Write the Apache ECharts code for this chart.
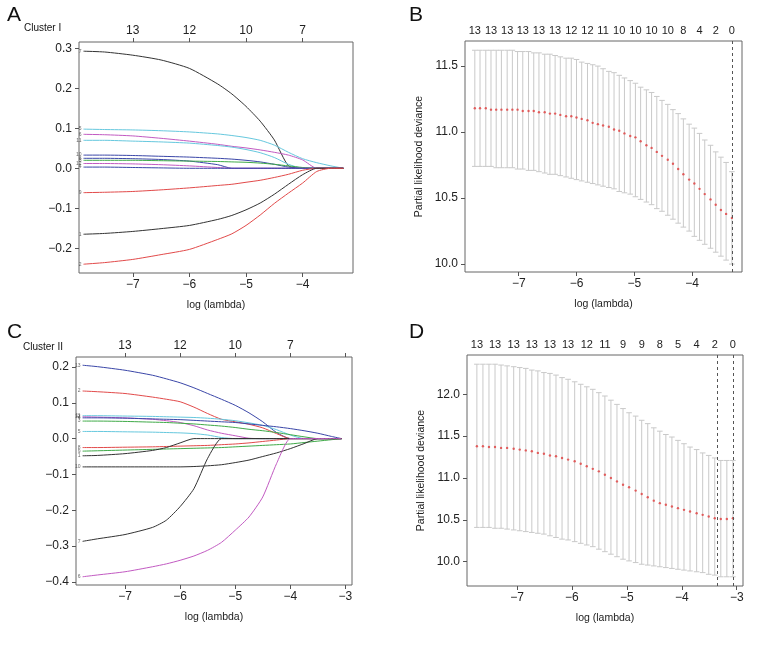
<!DOCTYPE html>
<html>
<head>
<meta charset="utf-8">
<script src="https://cdn.jsdelivr.net/npm/echarts@6/dist/echarts.min.js"></script>
<style>
  html, body { margin: 0; padding: 0; background: #fff; }
  #chart { width: 768px; height: 648px; }
</style>
</head>
<body>
<div id="chart"></div>
<script>
// A: coefficient paths, cluster I
const lamA = [-7.87, -7.5, -7, -6.5, -6, -5.5, -5.25, -5, -4.75, -4.5, -4.25, -4, -3.75, -3.5, -3.28]
const a7  = [0.293, 0.291, 0.283, 0.271, 0.250, 0.211, 0.186, 0.155, 0.118, 0.071, 0.006, 0, 0, 0, 0]
const a5  = [0.098, 0.097, 0.096, 0.094, 0.091, 0.086, 0.082, 0.077, 0.070, 0.058, 0.040, 0.024, 0.014, 0.006, 0]
const a6  = [0.085, 0.084, 0.081, 0.075, 0.068, 0.060, 0.055, 0.051, 0.046, 0.040, 0.033, 0.021, 0, 0, 0]
const a11 = [0.070, 0.070, 0.068, 0.066, 0.063, 0.057, 0.053, 0.047, 0.039, 0.027, 0.010, 0, 0, 0, 0]
const a10 = [0.033, 0.033, 0.032, 0.030, 0.028, 0.025, 0.023, 0.020, 0.016, 0.010, 0.003, 0, 0, 0, 0]
const a8  = [0.025, 0.025, 0.024, 0.022, 0.018, 0.009, 0, 0, 0, 0, 0, 0, 0, 0, 0]
const a3  = [0.020, 0.020, 0.020, 0.019, 0.018, 0.017, 0.016, 0.015, 0.013, 0.010, 0.006, 0.002, 0, 0, 0]
const a12 = [0.012, 0.012, 0.011, 0.009, 0.006, 0.002, 0, 0, 0, 0, 0, 0, 0, 0, 0]
const a4  = [0.003, 0.003, 0.002, 0.001, 0, 0, 0, 0, 0, 0, 0, 0, 0, 0, 0]
const a9  = [-0.061, -0.060, -0.058, -0.054, -0.049, -0.043, -0.040, -0.035, -0.030, -0.023, -0.015, -0.005, 0, 0, 0]
const a1  = [-0.165, -0.163, -0.158, -0.151, -0.143, -0.128, -0.118, -0.104, -0.087, -0.065, -0.040, -0.016, 0, 0, 0]
const a2  = [-0.240, -0.236, -0.228, -0.216, -0.203, -0.178, -0.164, -0.143, -0.117, -0.088, -0.062, -0.037, -0.008, 0, 0]

// C: coefficient paths, cluster II
const lamC = [-7.77, -7.5, -7, -6.5, -6.25, -6, -5.75, -5.5, -5.25, -5, -4.75, -4.5, -4.25, -4, -3.75, -3.5, -3.25, -3.07]
const c13 = [0.205, 0.201, 0.191, 0.177, 0.167, 0.156, 0.142, 0.126, 0.110, 0.093, 0.072, 0.047, 0.017, 0, 0, 0, 0, 0]
const c2  = [0.133, 0.131, 0.126, 0.116, 0.110, 0.103, 0.088, 0.070, 0.054, 0.047, 0.040, 0.030, 0.014, 0, 0, 0, 0, 0]
const c11 = [0.064, 0.064, 0.063, 0.062, 0.061, 0.060, 0.059, 0.057, 0.054, 0.050, 0.044, 0.037, 0.025, 0.010, 0, 0, 0, 0]
const c12 = [0.061, 0.060, 0.058, 0.054, 0.050, 0.045, 0.036, 0.024, 0.015, 0.008, 0.001, 0, 0, 0, 0, 0, 0, 0]
const c4  = [0.058, 0.058, 0.057, 0.055, 0.054, 0.053, 0.051, 0.049, 0.047, 0.045, 0.041, 0.037, 0.033, 0.028, 0.022, 0.015, 0.006, 0]
const c3  = [0.049, 0.049, 0.048, 0.046, 0.045, 0.043, 0.041, 0.038, 0.035, 0.031, 0.026, 0.022, 0.017, 0.011, 0.005, 0, 0, 0]
const c5  = [0.020, 0.020, 0.019, 0.018, 0.017, 0.016, 0.014, 0.010, 0.003, 0, 0, 0, 0, 0, 0, 0, 0, 0]
const c8  = [-0.025, -0.025, -0.024, -0.023, -0.022, -0.021, -0.020, -0.019, -0.017, -0.015, -0.012, -0.008, -0.004, 0, 0, 0, 0, 0]
const c9  = [-0.035, -0.034, -0.032, -0.030, -0.029, -0.028, -0.027, -0.026, -0.025, -0.023, -0.021, -0.019, -0.017, -0.015, -0.011, -0.007, -0.003, 0]
const c1  = [-0.048, -0.047, -0.042, -0.033, -0.025, -0.012, 0, 0, 0, 0, 0, 0, 0, 0, 0, 0, 0, 0]
const c10 = [-0.079, -0.079, -0.079, -0.079, -0.079, -0.079, -0.078, -0.076, -0.073, -0.067, -0.060, -0.050, -0.040, -0.028, -0.014, 0, 0, 0]
const c7  = [-0.287, -0.280, -0.268, -0.248, -0.228, -0.190, -0.140, -0.055, 0, 0, 0, 0, 0, 0, 0, 0, 0, 0]
const c6  = [-0.386, -0.381, -0.372, -0.358, -0.350, -0.340, -0.328, -0.312, -0.290, -0.256, -0.219, -0.163, -0.070, 0, 0, 0, 0, 0]

// B: cross-validation curve, cluster I
const lamB = [-7.76, -7.67, -7.57, -7.48, -7.39, -7.30, -7.20, -7.11, -7.02, -6.93,
  -6.83, -6.74, -6.65, -6.55, -6.46, -6.37, -6.28, -6.18, -6.09, -6.00,
  -5.91, -5.81, -5.72, -5.63, -5.54, -5.44, -5.35, -5.26, -5.17, -5.07,
  -4.98, -4.89, -4.79, -4.70, -4.61, -4.52, -4.42, -4.33, -4.24, -4.15,
  -4.05, -3.96, -3.87, -3.78, -3.68, -3.59, -3.50, -3.41, -3.31]
const cvmB = [11.18, 11.18, 11.18, 11.17, 11.17, 11.17, 11.17, 11.17, 11.17, 11.16,
  11.16, 11.16, 11.15, 11.15, 11.14, 11.14, 11.13, 11.12, 11.12, 11.11,
  11.10, 11.09, 11.07, 11.06, 11.05, 11.04, 11.02, 11.01, 10.99, 10.97,
  10.96, 10.93, 10.90, 10.88, 10.85, 10.82, 10.79, 10.76, 10.72, 10.68,
  10.64, 10.61, 10.57, 10.53, 10.49, 10.45, 10.41, 10.38, 10.35]
const upB = [11.62, 11.62, 11.62, 11.62, 11.62, 11.62, 11.62, 11.62, 11.61, 11.61,
  11.61, 11.60, 11.60, 11.59, 11.59, 11.58, 11.57, 11.56, 11.56, 11.55,
  11.53, 11.52, 11.51, 11.50, 11.48, 11.46, 11.45, 11.43, 11.41, 11.39,
  11.37, 11.34, 11.32, 11.30, 11.27, 11.24, 11.21, 11.17, 11.14, 11.10,
  11.06, 11.03, 10.99, 10.94, 10.90, 10.85, 10.81, 10.77, 10.70]
const loB = [10.74, 10.74, 10.74, 10.74, 10.73, 10.73, 10.73, 10.73, 10.72, 10.72,
  10.71, 10.71, 10.70, 10.69, 10.68, 10.68, 10.67, 10.66, 10.65, 10.64,
  10.63, 10.62, 10.61, 10.60, 10.59, 10.58, 10.57, 10.55, 10.54, 10.53,
  10.51, 10.49, 10.47, 10.45, 10.42, 10.40, 10.37, 10.34, 10.31, 10.28,
  10.25, 10.21, 10.18, 10.15, 10.12, 10.09, 10.06, 10.03, 10.00]
const nzB = ['13', '13', '13', '13', '13', '13', '12', '12', '11', '10', '10', '10', '10', '8', '4', '2', '0']
const vlineB = [-3.31]

// D: cross-validation curve, cluster II
const lamD = [-7.73, -7.62, -7.51, -7.40, -7.29, -7.18, -7.06, -6.95, -6.84, -6.73,
  -6.62, -6.51, -6.40, -6.29, -6.18, -6.07, -5.95, -5.84, -5.73, -5.62,
  -5.51, -5.40, -5.29, -5.18, -5.07, -4.96, -4.84, -4.73, -4.62, -4.51,
  -4.40, -4.29, -4.18, -4.07, -3.96, -3.85, -3.73, -3.62, -3.51, -3.40,
  -3.29, -3.18, -3.07]
const cvmD = [11.38, 11.38, 11.37, 11.37, 11.36, 11.36, 11.35, 11.34, 11.33, 11.32,
  11.30, 11.29, 11.27, 11.26, 11.24, 11.22, 11.20, 11.17, 11.14, 11.11,
  11.08, 11.04, 11.00, 10.96, 10.92, 10.89, 10.85, 10.81, 10.77, 10.73,
  10.70, 10.68, 10.66, 10.64, 10.62, 10.60, 10.58, 10.56, 10.54, 10.52,
  10.51, 10.51, 10.52]
const upD = [12.36, 12.36, 12.36, 12.36, 12.35, 12.34, 12.33, 12.32, 12.31, 12.29,
  12.28, 12.26, 12.25, 12.23, 12.20, 12.18, 12.15, 12.12, 12.09, 12.06,
  12.02, 11.98, 11.93, 11.88, 11.83, 11.78, 11.74, 11.69, 11.65, 11.60,
  11.56, 11.52, 11.49, 11.45, 11.41, 11.37, 11.34, 11.30, 11.27, 11.24,
  11.21, 11.21, 11.21]
const loD = [10.41, 10.41, 10.41, 10.40, 10.40, 10.39, 10.38, 10.37, 10.36, 10.35,
  10.34, 10.33, 10.31, 10.29, 10.27, 10.26, 10.24, 10.22, 10.20, 10.18,
  10.15, 10.12, 10.09, 10.06, 10.03, 10.01, 9.99, 9.97, 9.96, 9.95,
  9.94, 9.93, 9.92, 9.91, 9.90, 9.89, 9.88, 9.87, 9.85, 9.84,
  9.82, 9.82, 9.82]
const nzD = ['13', '13', '13', '13', '13', '13', '12', '11', '9', '9', '8', '5', '4', '2', '0']
const vlineD = [-3.35, -3.07]

// top axis of the path plots (number of non-zero coefficients)
const nzPathTicks = [-7, -6, -5, -4]
const nzPathA = ['13', '12', '10', '7']
const nzPathC = ['13', '12', '10', '7']

const FONT = '"Liberation Sans", Arial, sans-serif'
const TXT = '#222'
const col = {
  black: '#333333', red: '#e24a4a', green: '#3faa48',
  blue: '#3a46a8', cyan: '#66c8de', magenta: '#c25ac2'
}

const pathsA = [
  ['7', a7, col.black], ['5', a5, col.cyan], ['6', a6, col.magenta], ['11', a11, col.cyan],
  ['10', a10, col.blue], ['8', a8, col.blue], ['3', a3, col.green], ['12', a12, col.magenta],
  ['4', a4, col.blue], ['9', a9, col.red], ['1', a1, col.black], ['2', a2, col.red]
]
const pathsC = [
  ['13', c13, col.blue], ['2', c2, col.red], ['11', c11, col.cyan], ['12', c12, col.magenta],
  ['4', c4, col.blue], ['3', c3, col.green], ['5', c5, col.cyan], ['8', c8, col.red],
  ['9', c9, col.green], ['1', c1, col.black], ['10', c10, col.black], ['7', c7, col.black],
  ['6', c6, col.magenta]
]

const fmt = (v, d) => (v < -1e-9 ? '\u2212' : '') + Math.abs(v).toFixed(d)
const nearest = (arr, v) => {
  let best = 0
  arr.forEach((a, i) => { if (Math.abs(a - v) < Math.abs(arr[best] - v)) best = i })
  return best
}
const every3 = arr => arr.filter((_, i) => i % 3 === 0)

const bottomAxis = (gi, min, max, ticks) => ({
  gridIndex: gi, type: 'value', min, max, position: 'bottom',
  axisLine: { show: false, onZero: false }, splitLine: { show: false },
  axisTick: { show: true, customValues: ticks, length: 4, lineStyle: { color: '#555' } },
  axisLabel: { customValues: ticks, formatter: v => fmt(v, 0), fontFamily: FONT, fontSize: 12, color: TXT, margin: 6 },
  name: 'log (lambda)', nameLocation: 'middle', nameGap: 27,
  nameTextStyle: { fontFamily: FONT, fontSize: 10.5, color: TXT }
})

const topAxis = (gi, min, max, tickPos, labelPos, labels, showTick, size) => ({
  gridIndex: gi, type: 'value', min, max, position: 'top',
  axisLine: { show: false, onZero: false }, splitLine: { show: false },
  axisTick: { show: showTick, customValues: tickPos, length: 4, lineStyle: { color: '#555' } },
  axisLabel: {
    customValues: labelPos, formatter: v => labels[nearest(labelPos, v)],
    fontFamily: FONT, fontSize: size, color: TXT, margin: 5
  }
})

const leftAxis = (gi, min, max, ticks, name) => ({
  gridIndex: gi, type: 'value', min, max,
  axisLine: { show: false, onZero: false }, splitLine: { show: false },
  axisTick: { show: true, customValues: ticks, length: 4, lineStyle: { color: '#555' } },
  axisLabel: { customValues: ticks, formatter: v => fmt(v, 1), fontFamily: FONT, fontSize: 12, color: TXT, margin: 7 },
  name: name || '', nameLocation: 'middle', nameGap: 40, nameRotate: 90,
  nameTextStyle: { fontFamily: FONT, fontSize: 10.5, color: TXT }
})

const pathSeries = (paths, lam, xi, yi) => {
  const out = paths.map(([name, vals, color]) => ({
    type: 'line', name, xAxisIndex: xi, yAxisIndex: yi,
    data: lam.map((x, i) => [x, vals[i]]),
    showSymbol: false, smooth: 0.2, silent: true,
    lineStyle: { width: 1, color }
  }))
  out.push({
    type: 'scatter', xAxisIndex: xi, yAxisIndex: yi, silent: true,
    symbolSize: 0,
    data: paths.map(([name, vals]) => [lam[0], vals[0], name]),
    label: {
      show: true, position: 'left', distance: 2, formatter: p => p.data[2],
      fontFamily: FONT, fontSize: 5, color: '#444'
    }
  })
  return out
}

const errRender = (params, api) => {
  const x = api.value(0)
  const top = api.coord([x, api.value(2)])
  const bot = api.coord([x, api.value(1)])
  const w = 2.8
  const st = { stroke: '#c9c9c9', lineWidth: 1 }
  return {
    type: 'group',
    children: [
      { type: 'line', shape: { x1: top[0], y1: top[1], x2: bot[0], y2: bot[1] }, style: st },
      { type: 'line', shape: { x1: top[0] - w, y1: top[1], x2: top[0] + w, y2: top[1] }, style: st },
      { type: 'line', shape: { x1: bot[0] - w, y1: bot[1], x2: bot[0] + w, y2: bot[1] }, style: st }
    ]
  }
}

const cvSeries = (lam, cvm, up, lo, vlines, xi, yi) => [
  {
    type: 'custom', xAxisIndex: xi, yAxisIndex: yi, silent: true,
    data: lam.map((x, i) => [x, lo[i], up[i]]),
    encode: { x: 0, y: [1, 2] }, renderItem: errRender, z: 1
  },
  {
    type: 'scatter', xAxisIndex: xi, yAxisIndex: yi, silent: true, z: 3,
    data: lam.map((x, i) => [x, cvm[i]]),
    symbolSize: 2.4, itemStyle: { color: '#e03c3c' },
    markLine: {
      silent: true, symbol: ['none', 'none'], label: { show: false },
      lineStyle: { type: [3, 3], color: '#555', width: 1 },
      data: vlines.map(v => ({ xAxis: v }))
    }
  }
]

const chart = echarts.init(document.getElementById('chart'))

const letter = (t, x, y) => ({ type: 'text', x, y, style: { text: t, font: '21px ' + FONT, fill: '#111' } })
const note = (t, x, y) => ({ type: 'text', x, y, style: { text: t, font: '10px ' + FONT, fill: '#111' } })

chart.setOption({
  animation: false,
  backgroundColor: '#fff',
  graphic: [
    letter('A', 7, 5), letter('B', 409, 5), letter('C', 7, 322), letter('D', 409, 322),
    note('Cluster I', 24, 23), note('Cluster II', 23, 342)
  ],
  grid: [
    { left: 79, top: 42, width: 274, height: 231 },
    { left: 465, top: 41, width: 277, height: 231 },
    { left: 76, top: 357, width: 276, height: 228 },
    { left: 467, top: 355, width: 276, height: 231 }
  ].map(g => Object.assign(g, { show: true, borderColor: '#666', borderWidth: 1 })),
  xAxis: [
    bottomAxis(0, -7.95, -3.11, [-7, -6, -5, -4]),
    topAxis(0, -7.95, -3.11, nzPathTicks, nzPathTicks, nzPathA, true, 12),
    bottomAxis(1, -7.93, -3.135, [-7, -6, -5, -4]),
    topAxis(1, -7.93, -3.135, [], every3(lamB), nzB, false, 11),
    bottomAxis(2, -7.89, -2.88, [-7, -6, -5, -4, -3]),
    topAxis(2, -7.89, -2.88, [-7, -6, -5, -4, -3], nzPathTicks, nzPathC, true, 12),
    bottomAxis(3, -7.91, -2.886, [-7, -6, -5, -4, -3]),
    topAxis(3, -7.91, -2.886, [], every3(lamD), nzD, false, 11)
  ],
  yAxis: [
    leftAxis(0, -0.262, 0.316, [-0.2, -0.1, 0, 0.1, 0.2, 0.3]),
    leftAxis(1, 9.94, 11.69, [10.0, 10.5, 11.0, 11.5], 'Partial likelihood deviance'),
    leftAxis(2, -0.409, 0.228, [-0.4, -0.3, -0.2, -0.1, 0, 0.1, 0.2]),
    leftAxis(3, 9.71, 12.47, [10.0, 10.5, 11.0, 11.5, 12.0], 'Partial likelihood deviance')
  ],
  series: [
    ...pathSeries(pathsA, lamA, 0, 0),
    ...cvSeries(lamB, cvmB, upB, loB, vlineB, 2, 1),
    ...pathSeries(pathsC, lamC, 4, 2),
    ...cvSeries(lamD, cvmD, upD, loD, vlineD, 6, 3)
  ]
})
</script>
</body>
</html>
